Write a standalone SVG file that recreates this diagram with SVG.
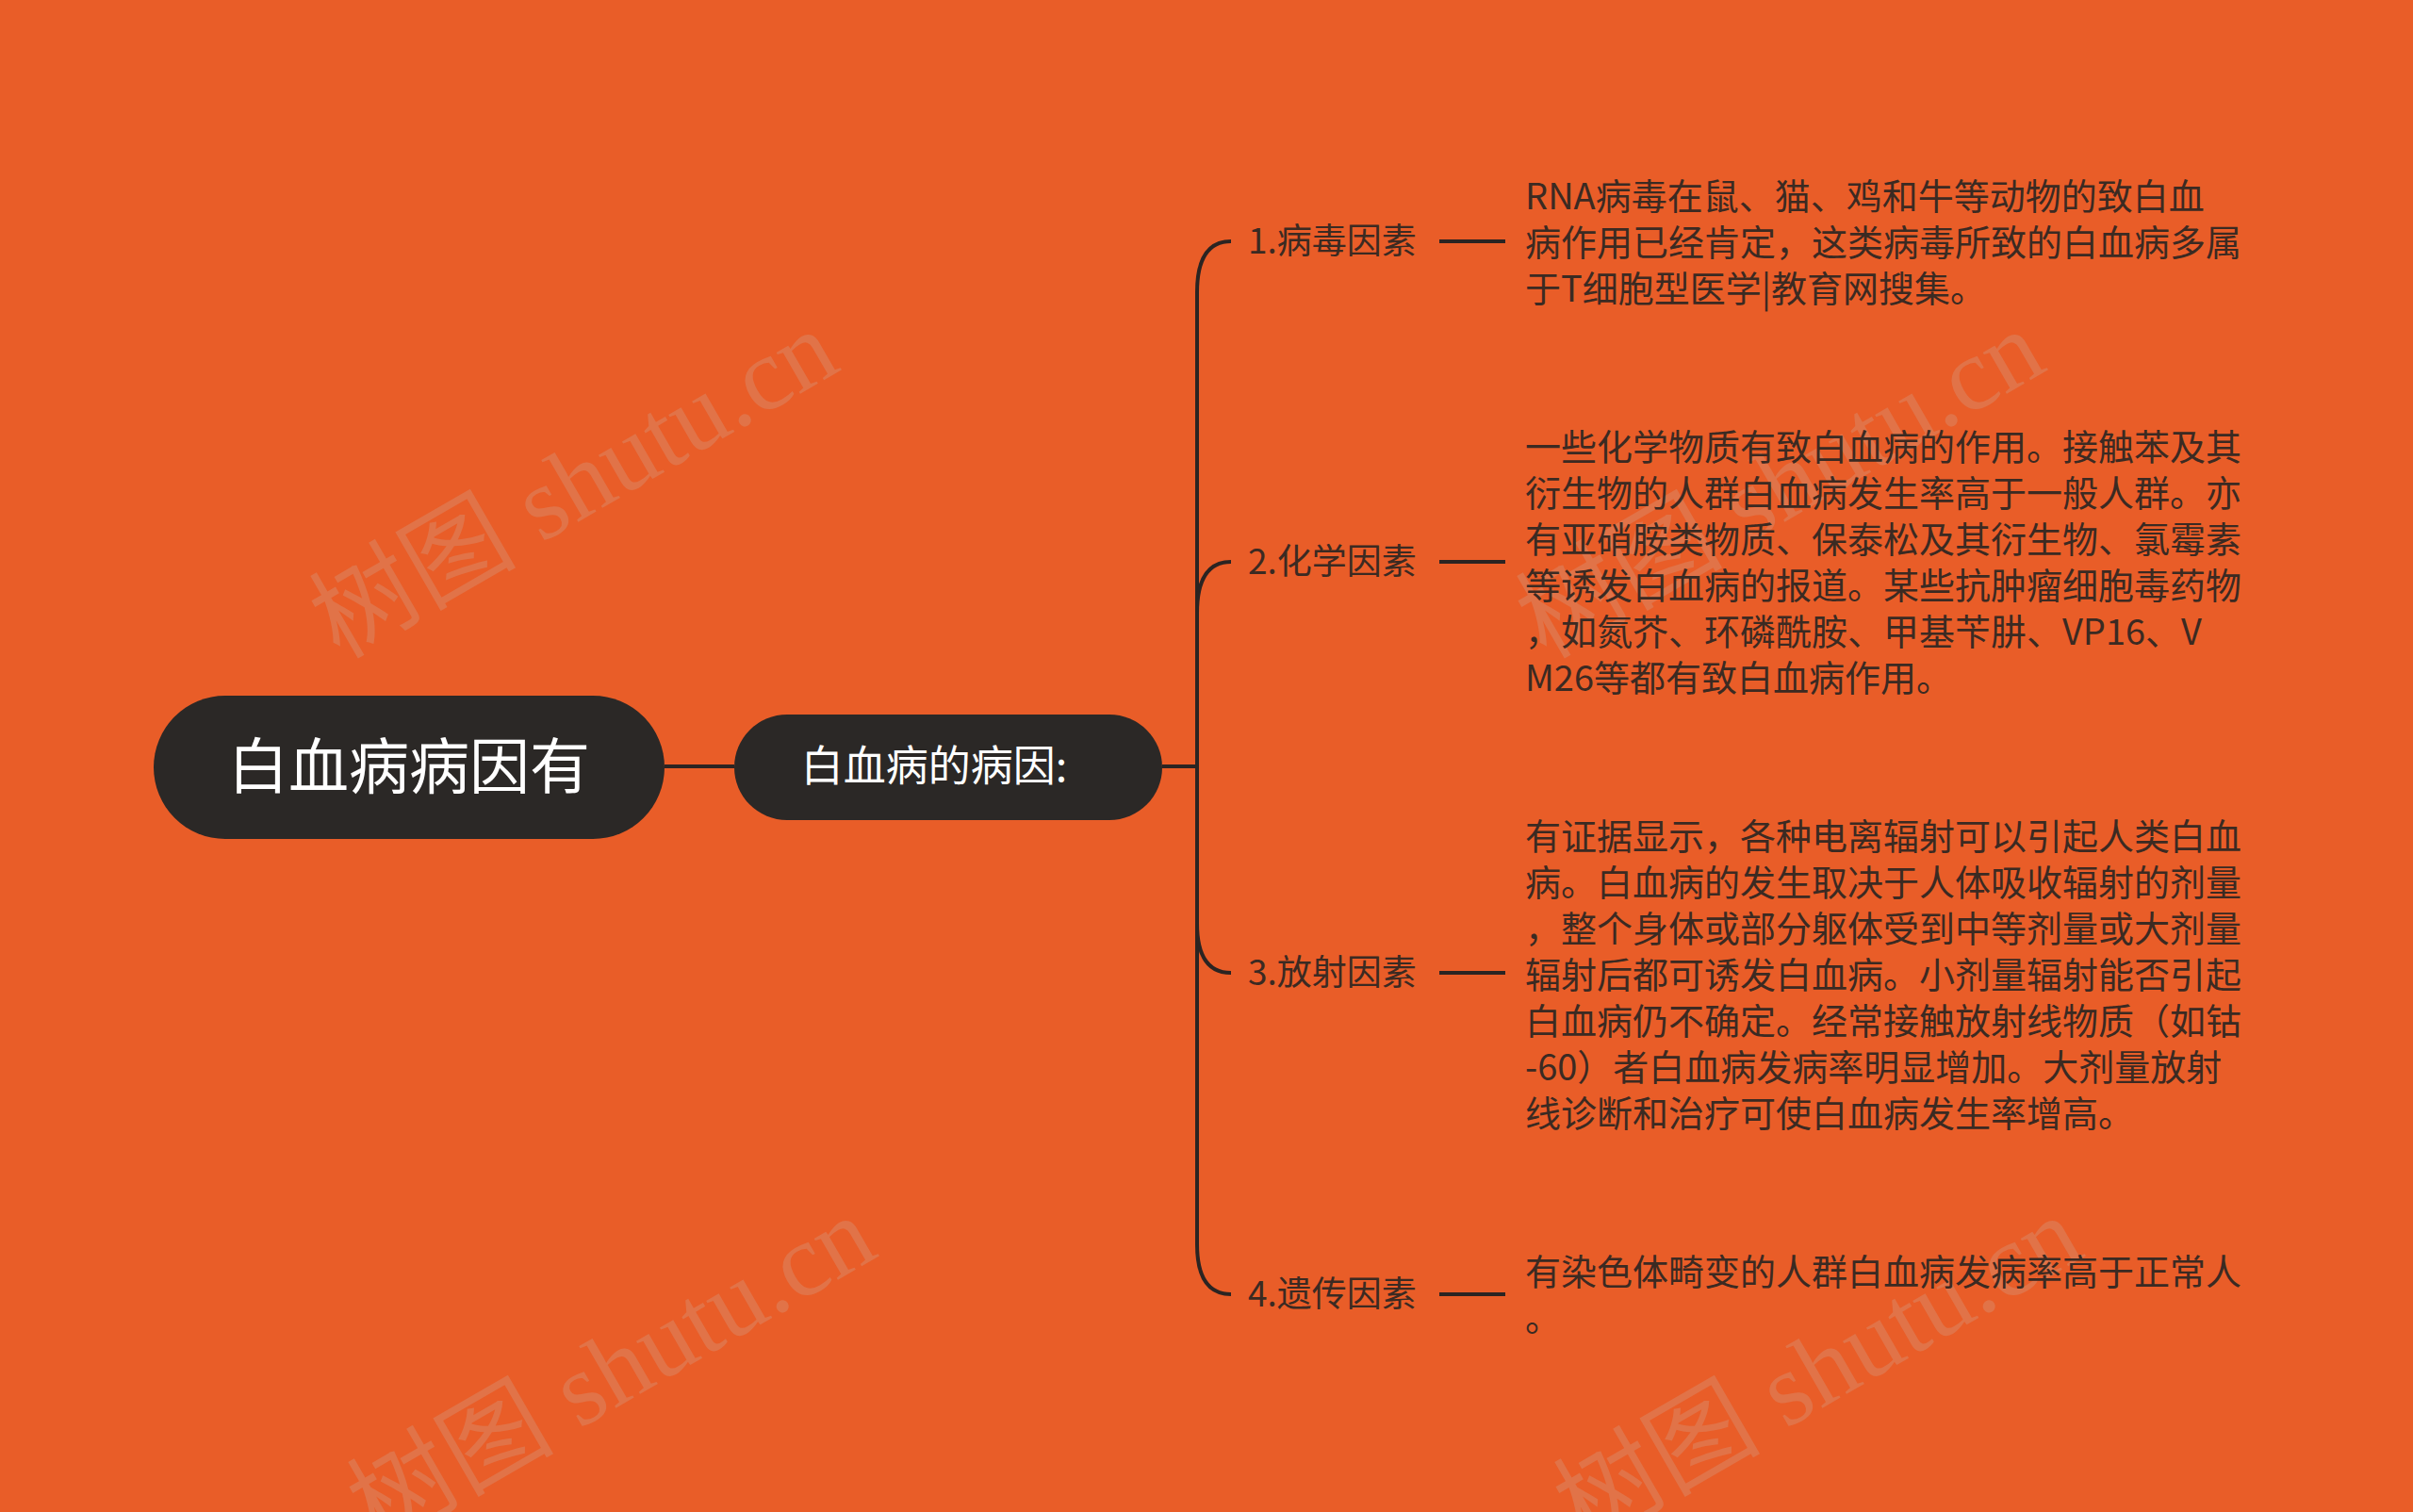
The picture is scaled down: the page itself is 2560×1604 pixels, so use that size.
<svg xmlns="http://www.w3.org/2000/svg" width="2560" height="1604" viewBox="0 0 2560 1604">
<style>
.t{font-family:"Noto Sans CJK SC","Noto Sans",sans-serif;fill:#3b2a22;font-size:38px}
.lab{font-family:"Noto Sans CJK SC","Noto Sans",sans-serif;fill:#3b2a22;font-size:37px}
.wm{font-family:"Liberation Serif","Noto Sans CJK SC",serif;font-size:110px;fill:#c9c0b8;opacity:0.22}
.ln{stroke:#2b2422;stroke-width:4;fill:none}
</style>
<rect width="2560" height="1604" fill="#E95D28"/>
<g id="watermarks">
<text class="wm" transform="translate(360,700) rotate(-30)">树图 shutu.cn</text>
<text class="wm" transform="translate(400,1640) rotate(-30)">树图 shutu.cn</text>
<text class="wm" transform="translate(1640,700) rotate(-30)">树图 shutu.cn</text>
<text class="wm" transform="translate(1680,1640) rotate(-30)">树图 shutu.cn</text>
</g>
<g id="connectors" class="ln">
<line x1="705" y1="813" x2="779" y2="813"/>
<line x1="1233" y1="813" x2="1270" y2="813"/>
<path d="M1306,256 Q1270,256 1270,310 L1270,1320 Q1270,1373 1306,1373"/>
<path d="M1270,650 Q1270,596 1306,596"/>
<path d="M1270,980 Q1270,1032 1306,1032"/>
<line x1="1527" y1="256" x2="1597" y2="256"/>
<line x1="1527" y1="596" x2="1597" y2="596"/>
<line x1="1527" y1="1032" x2="1597" y2="1032"/>
<line x1="1527" y1="1373" x2="1597" y2="1373"/>
</g>
<g id="root">
<rect x="163" y="738" width="542" height="152" rx="76" fill="#2b2826"/>
<text x="434" y="836" text-anchor="middle" font-family="Noto Sans CJK SC,sans-serif" font-size="64" fill="#fff">白血病病因有</text>
</g>
<g id="n1">
<rect x="779" y="758" width="454" height="112" rx="56" fill="#2b2826"/>
<text x="991" y="829" text-anchor="middle" font-family="Noto Sans CJK SC,sans-serif" font-size="45" fill="#fff">白血病的病因:</text>
</g>
<g id="b1"><text class="lab" x="1324" y="269">1.病毒因素</text></g>
<g id="b2"><text class="lab" x="1324" y="609">2.化学因素</text></g>
<g id="b3"><text class="lab" x="1324" y="1045">3.放射因素</text></g>
<g id="b4"><text class="lab" x="1324" y="1386">4.遗传因素</text></g>
<g id="d1" class="t">
<text x="1618" y="222">RNA病毒在鼠、猫、鸡和牛等动物的致白血</text>
<text x="1618" y="271">病作用已经肯定，这类病毒所致的白血病多属</text>
<text x="1618" y="320">于T细胞型医学|教育网搜集。</text>
</g>
<g id="d2" class="t">
<text x="1618" y="488">一些化学物质有致白血病的作用。接触苯及其</text>
<text x="1618" y="537">衍生物的人群白血病发生率高于一般人群。亦</text>
<text x="1618" y="586">有亚硝胺类物质、保泰松及其衍生物、氯霉素</text>
<text x="1618" y="635">等诱发白血病的报道。某些抗肿瘤细胞毒药物</text>
<text x="1618" y="684">，如氮芥、环磷酰胺、甲基苄肼、VP16、V</text>
<text x="1618" y="733">M26等都有致白血病作用。</text>
</g>
<g id="d3" class="t">
<text x="1618" y="901">有证据显示，各种电离辐射可以引起人类白血</text>
<text x="1618" y="950">病。白血病的发生取决于人体吸收辐射的剂量</text>
<text x="1618" y="999">，整个身体或部分躯体受到中等剂量或大剂量</text>
<text x="1618" y="1048">辐射后都可诱发白血病。小剂量辐射能否引起</text>
<text x="1618" y="1097">白血病仍不确定。经常接触放射线物质（如钴</text>
<text x="1618" y="1146">-60）者白血病发病率明显增加。大剂量放射</text>
<text x="1618" y="1195">线诊断和治疗可使白血病发生率增高。</text>
</g>
<g id="d4" class="t">
<text x="1618" y="1363">有染色体畸变的人群白血病发病率高于正常人</text>
<text x="1618" y="1412">。</text>
</g>
</svg>
